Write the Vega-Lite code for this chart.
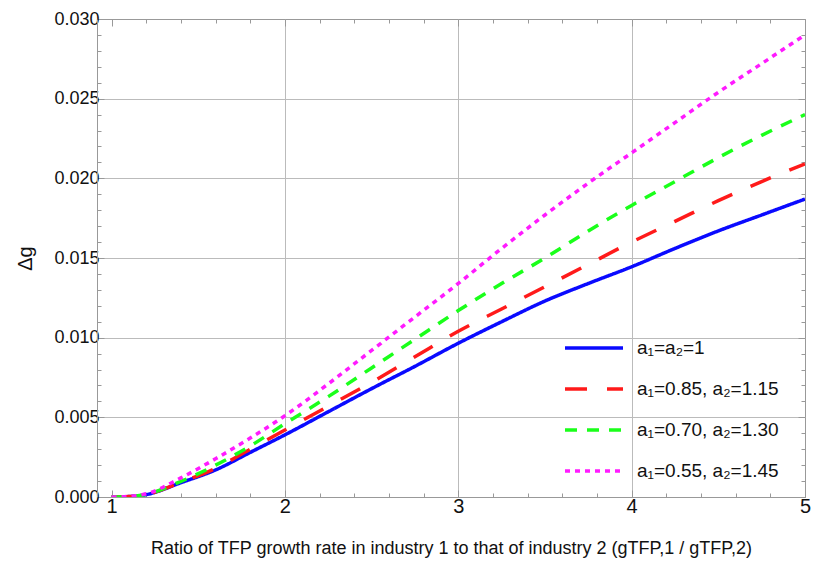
{
  "$schema": "https://vega.github.io/schema/vega-lite/v6.json",
  "width": 708,
  "height": 478,
  "autosize": {"type": "none"},
  "padding": {"left": 97, "top": 19, "right": 8, "bottom": 91},
  "background": "white",
  "config": {"view": {"stroke": "#999999", "strokeWidth": 1}, "font": "Liberation Sans"},
  "data": {
    "values": [
      {"r": 1, "dg": 0, "s": "a₁=a₂=1"},
      {"r": 1.1, "dg": 0.00003, "s": "a₁=a₂=1"},
      {"r": 1.2, "dg": 0.00015, "s": "a₁=a₂=1"},
      {"r": 1.4, "dg": 0.0009, "s": "a₁=a₂=1"},
      {"r": 1.6, "dg": 0.0017, "s": "a₁=a₂=1"},
      {"r": 1.8, "dg": 0.0028, "s": "a₁=a₂=1"},
      {"r": 2, "dg": 0.0039, "s": "a₁=a₂=1"},
      {"r": 2.25, "dg": 0.00535, "s": "a₁=a₂=1"},
      {"r": 2.5, "dg": 0.0068, "s": "a₁=a₂=1"},
      {"r": 2.75, "dg": 0.0082, "s": "a₁=a₂=1"},
      {"r": 3, "dg": 0.00965, "s": "a₁=a₂=1"},
      {"r": 3.25, "dg": 0.011, "s": "a₁=a₂=1"},
      {"r": 3.5, "dg": 0.0123, "s": "a₁=a₂=1"},
      {"r": 3.75, "dg": 0.0134, "s": "a₁=a₂=1"},
      {"r": 4, "dg": 0.01445, "s": "a₁=a₂=1"},
      {"r": 4.25, "dg": 0.0156, "s": "a₁=a₂=1"},
      {"r": 4.5, "dg": 0.0167, "s": "a₁=a₂=1"},
      {"r": 4.75, "dg": 0.0177, "s": "a₁=a₂=1"},
      {"r": 5, "dg": 0.0187, "s": "a₁=a₂=1"},
      {"r": 1, "dg": 0, "s": "a₁=0.85, a₂=1.15"},
      {"r": 1.1, "dg": 0.00003, "s": "a₁=0.85, a₂=1.15"},
      {"r": 1.2, "dg": 0.00016, "s": "a₁=0.85, a₂=1.15"},
      {"r": 1.4, "dg": 0.00092, "s": "a₁=0.85, a₂=1.15"},
      {"r": 1.6, "dg": 0.0018, "s": "a₁=0.85, a₂=1.15"},
      {"r": 1.8, "dg": 0.003, "s": "a₁=0.85, a₂=1.15"},
      {"r": 2, "dg": 0.0042, "s": "a₁=0.85, a₂=1.15"},
      {"r": 2.25, "dg": 0.0057, "s": "a₁=0.85, a₂=1.15"},
      {"r": 2.5, "dg": 0.0072, "s": "a₁=0.85, a₂=1.15"},
      {"r": 2.75, "dg": 0.0088, "s": "a₁=0.85, a₂=1.15"},
      {"r": 3, "dg": 0.0104, "s": "a₁=0.85, a₂=1.15"},
      {"r": 3.25, "dg": 0.0118, "s": "a₁=0.85, a₂=1.15"},
      {"r": 3.5, "dg": 0.0132, "s": "a₁=0.85, a₂=1.15"},
      {"r": 3.75, "dg": 0.0146, "s": "a₁=0.85, a₂=1.15"},
      {"r": 4, "dg": 0.016, "s": "a₁=0.85, a₂=1.15"},
      {"r": 4.25, "dg": 0.0173, "s": "a₁=0.85, a₂=1.15"},
      {"r": 4.5, "dg": 0.0186, "s": "a₁=0.85, a₂=1.15"},
      {"r": 4.75, "dg": 0.0198, "s": "a₁=0.85, a₂=1.15"},
      {"r": 5, "dg": 0.0209, "s": "a₁=0.85, a₂=1.15"},
      {"r": 1, "dg": 0, "s": "a₁=0.70, a₂=1.30"},
      {"r": 1.1, "dg": 0.00003, "s": "a₁=0.70, a₂=1.30"},
      {"r": 1.2, "dg": 0.00017, "s": "a₁=0.70, a₂=1.30"},
      {"r": 1.4, "dg": 0.00098, "s": "a₁=0.70, a₂=1.30"},
      {"r": 1.6, "dg": 0.002, "s": "a₁=0.70, a₂=1.30"},
      {"r": 1.8, "dg": 0.0032, "s": "a₁=0.70, a₂=1.30"},
      {"r": 2, "dg": 0.0046, "s": "a₁=0.70, a₂=1.30"},
      {"r": 2.25, "dg": 0.0063, "s": "a₁=0.70, a₂=1.30"},
      {"r": 2.5, "dg": 0.0081, "s": "a₁=0.70, a₂=1.30"},
      {"r": 2.75, "dg": 0.0099, "s": "a₁=0.70, a₂=1.30"},
      {"r": 3, "dg": 0.0117, "s": "a₁=0.70, a₂=1.30"},
      {"r": 3.25, "dg": 0.0134, "s": "a₁=0.70, a₂=1.30"},
      {"r": 3.5, "dg": 0.015, "s": "a₁=0.70, a₂=1.30"},
      {"r": 3.75, "dg": 0.0167, "s": "a₁=0.70, a₂=1.30"},
      {"r": 4, "dg": 0.0183, "s": "a₁=0.70, a₂=1.30"},
      {"r": 4.25, "dg": 0.0198, "s": "a₁=0.70, a₂=1.30"},
      {"r": 4.5, "dg": 0.0213, "s": "a₁=0.70, a₂=1.30"},
      {"r": 4.75, "dg": 0.0227, "s": "a₁=0.70, a₂=1.30"},
      {"r": 5, "dg": 0.024, "s": "a₁=0.70, a₂=1.30"},
      {"r": 1, "dg": 0, "s": "a₁=0.55, a₂=1.45"},
      {"r": 1.1, "dg": 0.00004, "s": "a₁=0.55, a₂=1.45"},
      {"r": 1.2, "dg": 0.0002, "s": "a₁=0.55, a₂=1.45"},
      {"r": 1.4, "dg": 0.0012, "s": "a₁=0.55, a₂=1.45"},
      {"r": 1.6, "dg": 0.0024, "s": "a₁=0.55, a₂=1.45"},
      {"r": 1.8, "dg": 0.0037, "s": "a₁=0.55, a₂=1.45"},
      {"r": 2, "dg": 0.0051, "s": "a₁=0.55, a₂=1.45"},
      {"r": 2.25, "dg": 0.0071, "s": "a₁=0.55, a₂=1.45"},
      {"r": 2.5, "dg": 0.0092, "s": "a₁=0.55, a₂=1.45"},
      {"r": 2.75, "dg": 0.0113, "s": "a₁=0.55, a₂=1.45"},
      {"r": 3, "dg": 0.0134, "s": "a₁=0.55, a₂=1.45"},
      {"r": 3.25, "dg": 0.0156, "s": "a₁=0.55, a₂=1.45"},
      {"r": 3.5, "dg": 0.0177, "s": "a₁=0.55, a₂=1.45"},
      {"r": 3.75, "dg": 0.0197, "s": "a₁=0.55, a₂=1.45"},
      {"r": 4, "dg": 0.0216, "s": "a₁=0.55, a₂=1.45"},
      {"r": 4.25, "dg": 0.0235, "s": "a₁=0.55, a₂=1.45"},
      {"r": 4.5, "dg": 0.0254, "s": "a₁=0.55, a₂=1.45"},
      {"r": 4.75, "dg": 0.0272, "s": "a₁=0.55, a₂=1.45"},
      {"r": 5, "dg": 0.029, "s": "a₁=0.55, a₂=1.45"}
    ]
  },
  "layer": [
    {
      "mark": {"type": "line", "strokeWidth": 3.5, "interpolate": "monotone", "clip": true},
      "encoding": {
        "x": {
          "field": "r", "type": "quantitative",
          "scale": {"domain": [0.916, 5], "nice": false, "zero": false},
          "axis": {
            "values": [1, 1.2, 1.4, 1.6, 1.8, 2, 2.2, 2.4, 2.6, 2.8, 3, 3.2, 3.4, 3.6, 3.8, 4, 4.2, 4.4, 4.6, 4.8, 5],
            "labelExpr": "abs(datum.value - round(datum.value)) < 0.000001 ? format(datum.value, 'd') : ''",
            "tickSize": {"condition": {"test": "abs(datum.value - round(datum.value)) < 0.000001", "value": -7}, "value": -4},
            "tickColor": "#999999",
            "domainColor": "#999999",
            "grid": true,
            "gridColor": "#bbbbbb",
            "gridOpacity": {"condition": {"test": "datum.value > 1.5 && datum.value < 4.5 && abs(datum.value - round(datum.value)) < 0.000001", "value": 1}, "value": 0},
            "labelFont": "Liberation Sans",
            "labelFontSize": 20,
            "labelColor": "#111111",
            "labelPadding": 6,
            "labelFlush": false,
            "labelOverlap": false,
            "title": "Ratio of TFP growth rate in industry 1 to that of industry 2 (gTFP,1 / gTFP,2)",
            "titleFont": "Liberation Sans",
            "titleFontSize": 18,
            "titleFontWeight": "normal",
            "titleColor": "#111111",
            "titlePadding": 20
          }
        },
        "y": {
          "field": "dg", "type": "quantitative",
          "scale": {"domain": [0, 0.03], "nice": false},
          "axis": {
            "values": [0, 0.001, 0.002, 0.003, 0.004, 0.005, 0.006, 0.007, 0.008, 0.009, 0.01, 0.011, 0.012, 0.013, 0.014, 0.015, 0.016, 0.017, 0.018, 0.019, 0.02, 0.021, 0.022, 0.023, 0.024, 0.025, 0.026, 0.027, 0.028, 0.029, 0.03],
            "labelExpr": "round(datum.value * 1000) % 5 == 0 ? format(datum.value, '.3f') : ''",
            "tickSize": {"condition": {"test": "round(datum.value * 1000) % 5 == 0", "value": -7}, "value": -4},
            "tickColor": "#999999",
            "domainColor": "#999999",
            "grid": true,
            "gridColor": "#bbbbbb",
            "gridOpacity": {"condition": {"test": "round(datum.value * 1000) % 5 == 0 && datum.value > 0.0001 && datum.value < 0.0299", "value": 1}, "value": 0},
            "labelFont": "Liberation Sans",
            "labelFontSize": 18,
            "labelColor": "#111111",
            "labelPadding": 5,
            "labelFlush": false,
            "labelOverlap": false,
            "title": "Δg",
            "titleFont": "Liberation Sans",
            "titleFontSize": 20,
            "titleFontWeight": "normal",
            "titleColor": "#111111",
            "titlePadding": 18
          }
        },
        "color": {
          "field": "s", "type": "nominal",
          "scale": {
            "domain": ["a₁=a₂=1", "a₁=0.85, a₂=1.15", "a₁=0.70, a₂=1.30", "a₁=0.55, a₂=1.45"],
            "range": ["#0a0aff", "#ff1a1a", "#1aff1a", "#ff1aff"]
          },
          "legend": {
            "title": null, "orient": "none", "legendX": 466, "legendY": 298,
            "symbolType": "stroke", "symbolSize": 3364, "symbolStrokeWidth": 3.5,
            "labelFont": "Liberation Sans", "labelFontSize": 19, "labelColor": "#111111",
            "labelOffset": 12, "rowPadding": -18.5, "labelLimit": 300
          }
        },
        "strokeDash": {
          "field": "s", "type": "nominal",
          "scale": {
            "domain": ["a₁=a₂=1", "a₁=0.85, a₂=1.15", "a₁=0.70, a₂=1.30", "a₁=0.55, a₂=1.45"],
            "range": [[1, 0], [22, 20], [12, 10], [5, 5]]
          },
          "legend": {
            "title": null, "orient": "none", "legendX": 466, "legendY": 298,
            "symbolType": "stroke", "symbolSize": 3364, "symbolStrokeWidth": 3.5,
            "labelFont": "Liberation Sans", "labelFontSize": 19, "labelColor": "#111111",
            "labelOffset": 12, "rowPadding": -18.5, "labelLimit": 300
          }
        }
      }
    },
    {
      "mark": {"type": "point", "opacity": 0},
      "encoding": {
        "x": {
          "field": "r", "type": "quantitative",
          "axis": {
            "orient": "top",
            "values": [1, 1.2, 1.4, 1.6, 1.8, 2, 2.2, 2.4, 2.6, 2.8, 3, 3.2, 3.4, 3.6, 3.8, 4, 4.2, 4.4, 4.6, 4.8, 5],
            "labels": false, "domain": false, "grid": false, "title": null,
            "tickColor": "#999999",
            "tickSize": {"condition": {"test": "abs(datum.value - round(datum.value)) < 0.000001", "value": -7}, "value": -4}
          }
        },
        "y": {
          "field": "dg", "type": "quantitative",
          "axis": {
            "orient": "right",
            "values": [0, 0.001, 0.002, 0.003, 0.004, 0.005, 0.006, 0.007, 0.008, 0.009, 0.01, 0.011, 0.012, 0.013, 0.014, 0.015, 0.016, 0.017, 0.018, 0.019, 0.02, 0.021, 0.022, 0.023, 0.024, 0.025, 0.026, 0.027, 0.028, 0.029, 0.03],
            "labels": false, "domain": false, "grid": false, "title": null,
            "tickColor": "#999999",
            "tickSize": {"condition": {"test": "round(datum.value * 1000) % 5 == 0", "value": -7}, "value": -4}
          }
        }
      }
    }
  ],
  "resolve": {"axis": {"x": "independent", "y": "independent"}}
}
